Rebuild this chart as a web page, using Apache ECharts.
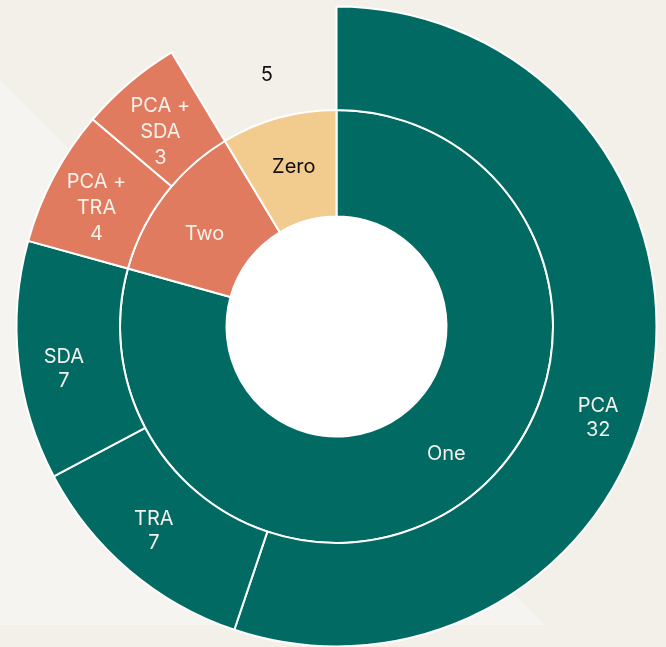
<!DOCTYPE html>
<html>
<head>
<meta charset="utf-8">
<script src="https://cdn.jsdelivr.net/npm/echarts@6/dist/echarts.min.js"></script>
<style>
html,body{margin:0;padding:0;background:#f3f0ea;}
#chart{width:666px;height:647px;}
</style>
</head>
<body>
<div id="chart"></div>
<script>
// Inner ring
const groups = ['One', 'Two', 'Zero'];
const groupColors = ['#016b63', '#e07b60', '#f2cb8e'];
// Outer ring (children per group, in drawing order)
const oneChildren = ['PCA', 'TRA', 'SDA'];
const oneValues = [32, 7, 7];
const twoChildren = ['PCA +\nTRA', 'PCA +\nSDA'];
const twoValues = [4, 3];
const zeroChildren = [''];
const zeroValues = [5];

const childNames = [oneChildren, twoChildren, zeroChildren];
const childValues = [oneValues, twoValues, zeroValues];

// label nudges in px (style only)
const labelOffsets = {
  'One': [11, -2], 'Two': [-2, 6], 'Zero': [1, -2],
  'PCA': [-3, 48], 'TRA': [-9, 0], 'SDA': [-6, 13],
  'PCA +\nTRA': [-3, 7], 'PCA +\nSDA': [-2.5, 10], '': [2, 7]
};
function pad(off) {
  const dx = off ? off[0] : 0, dy = off ? off[1] : 0;
  return [Math.max(0, 2 * dy), Math.max(0, -2 * dx), Math.max(0, -2 * dy), Math.max(0, 2 * dx)];
}

const light = '#f4f1eb';
const dark = '#111111';

function richLabel(text, color, lh, off) {
  return {
    padding: pad(off),
    formatter: text.split('\n').map(s => '{t|' + s + '}').join('\n'),
    rich: {
      t: { color: color, fontFamily: 'Inter', fontSize: 20, lineHeight: lh, align: 'center' }
    }
  };
}

const data = groups.map((g, i) => {
  const isZero = g === 'Zero';
  const isTwo = g === 'Two';
  const gColor = isZero ? dark : light;
  return {
    name: g,
    itemStyle: { color: groupColors[i] },
    label: richLabel(g, gColor, 24, labelOffsets[g]),
    children: childNames[i].map((n, j) => {
      const v = childValues[i][j];
      const node = {
        name: n,
        value: v,
        itemStyle: { color: isZero ? 'rgba(0,0,0,0)' : groupColors[i] },
        label: richLabel(isZero ? String(v) : (n + '\n' + v), gColor, isTwo ? 26 : 24, labelOffsets[n])
      };
      if (isZero) node.itemStyle.borderWidth = 0;
      return node;
    })
  };
});

const chart = echarts.init(document.getElementById('chart'), null, { renderer: 'canvas' });
chart.setOption({
  backgroundColor: '#f3f0ea',
  animation: false,
  graphic: [{
    type: 'polygon',
    z: -10,
    silent: true,
    shape: { points: [[0, 80], [545, 625], [0, 625]] },
    style: { fill: '#f6f4f0' }
  }],
  series: [{
    type: 'pie',
    silent: true,
    center: [336.5, 326.5],
    radius: [0, 111],
    label: { show: false },
    labelLine: { show: false },
    itemStyle: { color: '#ffffff' },
    data: [{ value: 1, name: 'hole' }]
  }, {
    type: 'sunburst',
    center: [336.5, 326.5],
    radius: [110, 320],
    sort: null,
    nodeClick: false,
    emphasis: { disabled: true },
    itemStyle: { borderColor: '#ffffff', borderWidth: 2 },
    label: {
      rotate: 0,
      fontFamily: 'Inter',
      fontSize: 20,
      lineHeight: 24,
      align: 'center'
    },
    levels: [
      {},
      { r0: 110, r: 216.5 },
      { r0: 216.5, r: 320 }
    ],
    data: data
  }]
});
</script>
</body>
</html>
